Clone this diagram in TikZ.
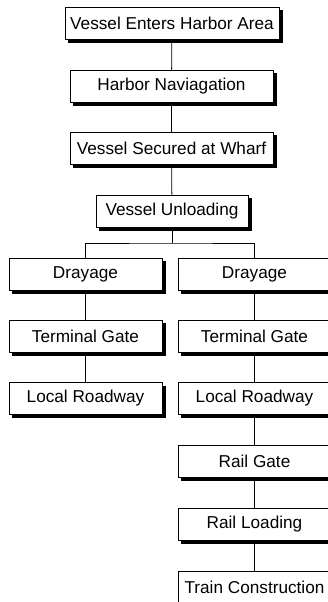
\documentclass[tikz,border=0pt]{standalone}
\usepackage{fontspec}
\setmainfont{Liberation Sans}
\usetikzlibrary{backgrounds}
\begin{document}
\begin{tikzpicture}[x=1pt,y=1pt,
  box/.style={draw=black, line width=0.8pt, fill=white, minimum height=32pt, inner sep=0pt,
    font=\fontsize{17.2}{20}\selectfont},
  shadowbox/.style={fill=black, draw=none},
  conn/.style={draw=black, line width=0.8pt}]
\useasboundingbox (0,0) rectangle (327,-602);
\node[box, minimum width=214pt] (b1) at (172,-23) {Vessel Enters Harbor Area};
\node[box, minimum width=203pt] (b2) at (171.5,-86) {Harbor Naviagation};
\node[box, minimum width=203pt] (b3) at (171.5,-148) {Vessel Secured at Wharf};
\node[box, minimum width=152pt] (b4) at (172,-211) {Vessel Unloading};
\node[box, minimum width=153pt] (ld) at (85.5,-274) {Drayage};
\node[box, minimum width=153pt] (lt) at (85.5,-336) {Terminal Gate};
\node[box, minimum width=153pt] (lr) at (85.5,-398.5) {Local Roadway};
\node[box, minimum width=153pt] (rd) at (254.5,-274) {Drayage};
\node[box, minimum width=153pt] (rt) at (254.5,-336) {Terminal Gate};
\node[box, minimum width=153pt] (rr) at (254.5,-398.5) {Local Roadway};
\node[box, minimum width=153pt] (rg) at (254.5,-461.5) {Rail Gate};
\node[box, minimum width=153pt] (rl) at (254.5,-524) {Rail Loading};
\node[box, minimum width=153pt] (tc) at (254.5,-587) {Train Construction};
\begin{scope}[on background layer]
\foreach \n in {b1,b2,b3,b4,ld,lt,lr,rd,rt,rr,rg,rl,tc}
  \fill[shadowbox] ([shift={(3.5,-3.5)}]\n.south west) rectangle ([shift={(3.5,-3.5)}]\n.north east);
\end{scope}
\coordinate (br) at (172,-243);
\draw[conn] (b1) -- (b2);
\draw[conn] (b2) -- (b3);
\draw[conn] (b3) -- (b4);
\draw[conn] (b4.south) -- (br);
\draw[conn] (ld.north) |- (br) -| (rd.north);
\draw[conn] (ld) -- (lt);
\draw[conn] (lt) -- (lr);
\draw[conn] (rd) -- (rt);
\draw[conn] (rt) -- (rr);
\draw[conn] (rr) -- (rg);
\draw[conn] (rg) -- (rl);
\draw[conn] (rl) -- (tc);
\end{tikzpicture}
\end{document}
